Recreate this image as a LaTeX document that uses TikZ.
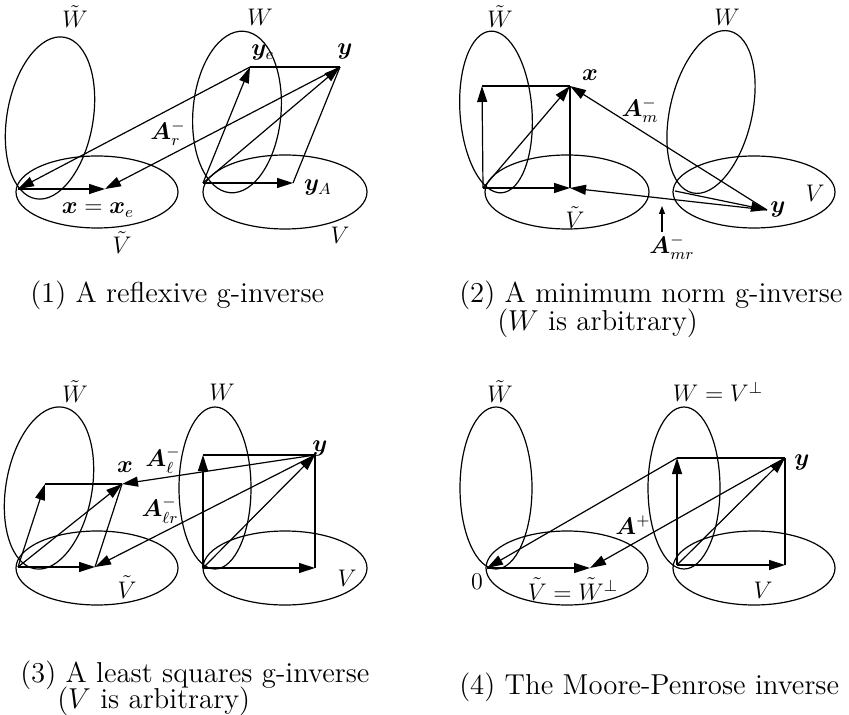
\documentclass[tikz,border=0pt]{standalone}
\usepackage{amsmath, amssymb}
\usepackage{bm}
\usetikzlibrary{arrows.meta}

\begin{document}
\begin{tikzpicture}[x=0.5pt, y=-0.5pt, line width=0.6pt, every node/.style={font=\large}]
    \tikzset{vec/.style={-{Triangle[length=8pt, width=5pt]}},
             tinyvec/.style={-{Triangle[length=4pt, width=3pt]}},
             captext/.style={anchor=base west, font=\Large}}
    \useasboundingbox (0,0) rectangle (849,715);

    % (1) reflexive g-inverse
    \draw[rotate around={-10:(50,118)}] (50,118) ellipse [x radius=43, y radius=82];
    \draw[rotate around={-5:(237,112)}] (237,112) ellipse [x radius=44, y radius=81];
    \draw (97,192) ellipse [x radius=81, y radius=36];
    \draw (285,192) ellipse [x radius=82, y radius=37];

    \coordinate (o1) at (18,189);
    \coordinate (x1) at (105,189);
    \coordinate (o2) at (203,183);
    \coordinate (ya) at (293,183);
    \coordinate (ye) at (250,67);
    \coordinate (y1) at (340,67);

    \draw[vec] (o1) -- (x1);
    \draw[vec] (o2) -- (ya);
    \draw[vec] (o2) -- (ye);
    \draw[vec] (o2) -- (y1);
    \draw (ya) -- (y1);
    \draw (ye) -- (y1);
    \draw[vec] (ye) -- (o1);
    \draw[vec] (y1) -- (x1);

    \node (wt1) at (75,17) {$\tilde{W}$};
    \node (w1) at (260,17) {$W$};
    \node (vt1) at (122,243) {$\tilde{V}$};
    \node (v1) at (340,235) {$V$};
    \node (lx1) at (98,210) {$\bm{x}=\bm{x}_e$};
    \node (lye) at (263,53) {$\bm{y}_e$};
    \node (ly1) at (345,52) {$\bm{y}$};
    \node (lya) at (318,188) {$\bm{y}_A$};
    \node (ar) at (168,133) {$\bm{A}_r^-$};

    % (2) minimum norm g-inverse
    \draw[rotate around={4:(496,112)}] (496,112) ellipse [x radius=36, y radius=81];
    \draw[rotate around={-13:(711,112)}] (711,112) ellipse [x radius=41, y radius=83];
    \draw (567,192) ellipse [x radius=82, y radius=37];
    \draw (754,192) ellipse [x radius=81, y radius=36];

    \coordinate (o3) at (483,188);
    \coordinate (c3) at (482,86);
    \coordinate (x2) at (570,86);
    \coordinate (p2) at (570,188);
    \coordinate (o4) at (675,191);
    \coordinate (y2) at (767,210);
    \coordinate (mrtip) at (662,206);
    \coordinate (mrfoot) at (662,232);

    \draw[vec] (o3) -- (c3);
    \draw (c3) -- (x2);
    \draw[vec] (o3) -- (x2);
    \draw (x2) -- (p2);
    \draw[vec] (o3) -- (p2);
    \draw[vec] (y2) -- (p2);
    \draw[vec] (o4) -- (y2);
    \draw[vec] (y2) -- (x2);
    \draw[tinyvec] (mrfoot) -- (mrtip);

    \node (wt2) at (500,17) {$\tilde{W}$};
    \node (w2) at (727,17) {$W$};
    \node (vt2) at (575,218) {$\tilde{V}$};
    \node (v2) at (815,193) {$V$};
    \node (lx2) at (590,75) {$\bm{x}$};
    \node (ly2) at (778,210) {$\bm{y}$};
    \node (am) at (640,110) {$\bm{A}_m^-$};
    \node (amr) at (672,247) {$\bm{A}_{mr}^-$};

    % (3) least squares g-inverse
    \draw[rotate around={-10:(49,488)}] (49,488) ellipse [x radius=43, y radius=82];
    \draw (215,488) ellipse [x radius=36, y radius=81];
    \draw (97,568) ellipse [x radius=81, y radius=37];
    \draw (285,568) ellipse [x radius=82, y radius=37];

    \coordinate (o5) at (18,567);
    \coordinate (p3) at (95,567);
    \coordinate (c5) at (45,484);
    \coordinate (x3) at (122,484);
    \coordinate (o6) at (203,568);
    \coordinate (c6) at (203,455);
    \coordinate (y3) at (315,455);
    \coordinate (q3) at (315,568);

    \draw[vec] (o5) -- (c5);
    \draw (c5) -- (x3);
    \draw[vec] (o5) -- (x3);
    \draw[vec] (o5) -- (p3);
    \draw (p3) -- (x3);
    \draw[vec] (y3) -- (x3);
    \draw[vec] (y3) -- (p3);
    \draw[vec] (o6) -- (c6);
    \draw (c6) -- (y3);
    \draw[vec] (o6) -- (y3);
    \draw (y3) -- (q3);
    \draw[vec] (o6) -- (q3);

    \node (wt3) at (75,392) {$\tilde{W}$};
    \node (w3) at (222,392) {$W$};
    \node (vt3) at (127,587) {$\tilde{V}$};
    \node (v3) at (347,578) {$V$};
    \node (lx3) at (125,467) {$\bm{x}$};
    \node (ly3) at (320,448) {$\bm{y}$};
    \node (al) at (163,460) {$\bm{A}_\ell^-$};
    \node (alr) at (160,510) {$\bm{A}_{\ell r}^-$};

    % (4) Moore-Penrose inverse
    \draw (496,488) ellipse [x radius=36, y radius=81];
    \draw (684,488) ellipse [x radius=36, y radius=81];
    \draw (567,568) ellipse [x radius=81, y radius=37];
    \draw (754,568) ellipse [x radius=81, y radius=37];

    \coordinate (o7) at (487,568);
    \coordinate (p4) at (590,568);
    \coordinate (o8) at (677,565);
    \coordinate (c8) at (677,458);
    \coordinate (y4) at (785,458);
    \coordinate (q4) at (785,565);

    \draw[vec] (o7) -- (p4);
    \draw[vec] (o8) -- (c8);
    \draw (c8) -- (y4);
    \draw[vec] (o8) -- (y4);
    \draw (y4) -- (q4);
    \draw[vec] (o8) -- (q4);
    \draw[vec] (c8) -- (o7);
    \draw[vec] (y4) -- (p4);

    \node (wt4) at (500,392) {$\tilde{W}$};
    \node (w4) at (718,392) {$W=V^\perp$};
    \node (zero) at (477,582) {$0$};
    \node (vt4) at (573,589) {$\tilde{V}=\tilde{W}^\perp$};
    \node (v4) at (763,590) {$V$};
    \node (ly4) at (802,462) {$\bm{y}$};
    \node (ap) at (633,525) {$\bm{A}^+$};

    % captions
    \node[captext] (cap1) at (23,303) {(1) A reflexive g-inverse};
    \node[captext] (cap2) at (452,303) {(2) A minimum norm g-inverse};
    \node[captext] (cap2b) at (490,330) {($W$ is arbitrary)};
    \node[captext] (cap3) at (13,682) {(3) A least squares g-inverse};
    \node[captext] (cap3b) at (50,708) {($V$ is arbitrary)};
    \node[captext] (cap4) at (452,694) {(4) The Moore-Penrose inverse};
\end{tikzpicture}
\end{document}
